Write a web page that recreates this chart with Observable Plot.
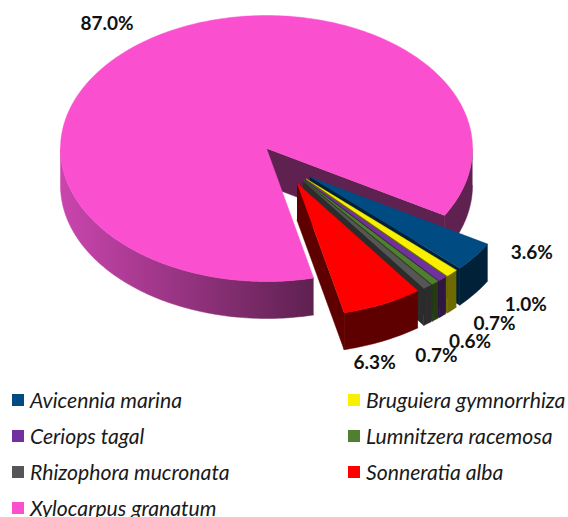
<!DOCTYPE html>
<html>
<head>
<meta charset="utf-8">
<script src="https://cdn.jsdelivr.net/npm/d3@7"></script>
<script src="https://cdn.jsdelivr.net/npm/@observablehq/plot@0.6"></script>
<style>
html,body{margin:0;padding:0;background:#fff;overflow:hidden;height:517px;width:568px}
svg{display:block}
#legend{display:grid;grid-template-columns:336px 220px;grid-auto-rows:36px;margin-left:12px;white-space:nowrap;
 font:italic 21.2px Lato,sans-serif;color:#1a1a1a}
#legend div{display:flex;align-items:center}
#legend i{display:inline-block;width:12px;height:12px;margin-right:6px;flex:none}
</style>
</head>
<body>
<div id="chart"></div>
<div id="legend"></div>
<script>
// Data
const species = ["Avicennia marina","Bruguiera gymnorrhiza","Ceriops tagal","Lumnitzera racemosa","Rhizophora mucronata","Sonneratia alba","Xylocarpus granatum"];
const shares  = [3.6,1.0,0.7,0.6,0.7,6.3,87.0];
const topColors  = ["#004b82","#f8f000","#7030a0","#4f7f2f","#565656","#ff0000","#fa50cf"];
const sideColors = ["#002138","#6e6a00","#2e1642","#253b14","#2c2c2c","#5e0000","#5e2150"];
const explode    = [0.3,0.3,0.3,0.3,0.3,0.3,0];
// Label placement relative to each slice's rim midpoint
const labelDx = [57,74,52,35,9,-8,-37];
const labelDy = [-4,32,45,59,69,59,-18];

// Pie geometry
const cx=266, cy=148, rx=206, ry=133, depth=37, start=30.3;
const rad=d=>d*Math.PI/180;
const total=d3.sum(shares);
let acc=start;
const slices=species.map((name,i)=>{
  const a0=acc, a1=acc+shares[i]/total*360; acc=a1;
  const mid=(a0+a1)/2, dir=rad(26.4+0.52*mid);
  const ax=cx+explode[i]*rx*Math.cos(dir), ay=cy+explode[i]*ry*Math.sin(dir);
  return {name,i,a0,a1,mid,ax,ay,share:shares[i]};
});
const rim=(s,a,dy=0)=>({x:s.ax+rx*Math.cos(rad(a)),y:s.ay+ry*Math.sin(rad(a))+dy});
const arc=(s,a0,a1,dy=0)=>{
  const n=Math.max(2,Math.ceil(Math.abs(a1-a0)));
  return d3.range(n+1).map(k=>rim(s,a0+(a1-a0)*k/n,dy));
};
let uid=0;
const pts=[];
const poly=(list,c)=>{const id=uid++;list.forEach(p=>pts.push({x:p.x,y:p.y,id,c}));};
const wallOf=(s,a0,a1)=>arc(s,a0,a1).concat(arc(s,a1,a0,depth));

const pink=slices[6];
// back wall on the cut of the big slice
poly([{x:pink.ax,y:pink.ay},rim(pink,pink.a1),rim(pink,pink.a1,depth),{x:pink.ax,y:pink.ay+depth}],sideColors[6]);
// right outer wall
poly(wallOf(pink,360,pink.a1),sideColors[6]);
// front outer wall, shaded left to right by a gradient
poly(wallOf(pink,pink.a0,180),"url(#pinkWall)");
poly([{x:pink.ax,y:pink.ay},...arc(pink,pink.a0,pink.a1)],topColors[6]);
// exploded slices, painted back to front
slices.slice(0,6).forEach(s=>{
  poly([{x:s.ax,y:s.ay},rim(s,s.a1),rim(s,s.a1,depth),{x:s.ax,y:s.ay+depth}],sideColors[s.i]);
  poly(wallOf(s,s.a0,s.a1),sideColors[s.i]);
  poly([{x:s.ax,y:s.ay},...arc(s,s.a0,s.a1)],topColors[s.i]);
});

const labels=slices.map(s=>{
  const p=rim(s,s.mid);
  return {x:p.x+labelDx[s.i],y:p.y+labelDy[s.i],t:s.share.toFixed(1)+"%"};
});

const wallDefs=(index,{x})=>{
  const defs=d3.create("svg:defs");
  const g=defs.append("linearGradient").attr("id","pinkWall").attr("gradientUnits","userSpaceOnUse")
    .attr("x1",x(cx-rx)).attr("x2",x(rim(pink,pink.a0).x)).attr("y1",0).attr("y2",0);
  g.append("stop").attr("offset",0).attr("stop-color","#ca45ae");
  g.append("stop").attr("offset",1).attr("stop-color",sideColors[6]);
  return defs.node();
};

const H=382;
const plot=Plot.plot({
  width:568,height:H,margin:0,
  x:{domain:[0,568],range:[0,568],axis:null},
  y:{domain:[0,H],range:[0,H],axis:null},
  color:{type:"identity"},
  marks:[
    wallDefs,
    Plot.line(pts,{x:"x",y:"y",z:"id",fill:"c",stroke:"c",strokeWidth:0.5,curve:"linear"}),
    Plot.text(labels,{x:"x",y:"y",text:"t",fontSize:19,fontWeight:700,fontFamily:"Lato, sans-serif",fill:"#111"})
  ]
});
document.getElementById("chart").append(plot);

const leg=d3.select("#legend");
species.forEach((n,i)=>{
  const d=leg.append("div");
  d.append("i").style("background",topColors[i]);
  d.append("span").text(n);
});
</script>
</body>
</html>
